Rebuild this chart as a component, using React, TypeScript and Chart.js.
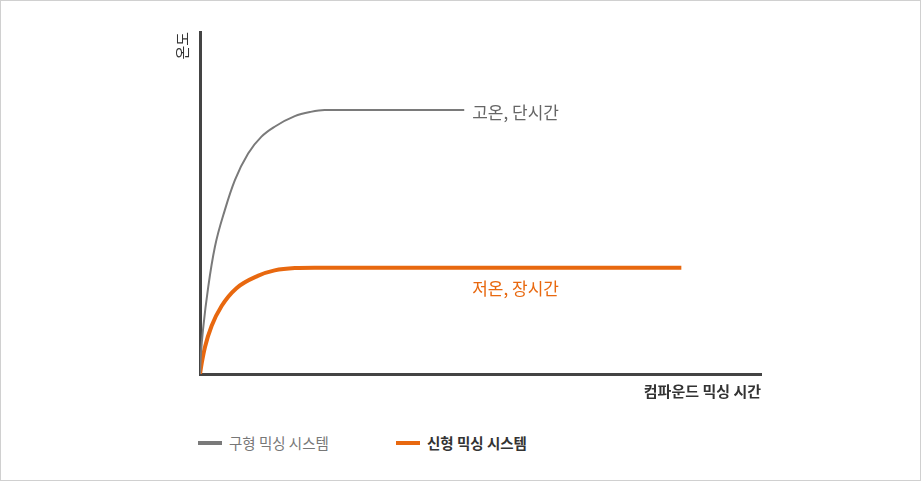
import React, { useEffect, useRef } from 'react';
import Chart from 'chart.js/auto';

// mixing time (x) vs temperature (y)
const oldX = [0, 0.18, 0.59, 1.47, 2.66, 4.44, 6.22, 8.58, 10.96, 13.3, 16.9, 19.6, 22.2, 47.1];
const oldY = [0, 6.1, 13.8, 25.5, 37.2, 48.0, 56.7, 64.5, 69.4, 72.3, 75.4, 76.6, 77.2, 77.2];
const newX = [0, 0.3, 0.89, 2.08, 3.85, 6.5, 10.3, 13.3, 16.9, 20.4, 85.8];
const newY = [0, 3.1, 7.9, 14.1, 19.9, 25.1, 28.7, 30.3, 31.0, 31.1, 31.1];

const seriesNames = ['구형 믹싱 시스템', '신형 믹싱 시스템'];
const curveLabels = ['고온, 단시간', '저온, 장시간'];
const xTitle = '컴파운드 믹싱 시간';
const yTitle = '온도';

const GRAY = '#7a7a7a';
const ORANGE = '#e8680f';
const AXIS = '#444';
const FONT = '"Noto Sans CJK KR", "Noto Sans", sans-serif';

function MixingChart() {
  const chartRef = useRef<HTMLCanvasElement>(null);

  useEffect(() => {
    if (!chartRef.current) return;

    // text next to each curve
    const curveText = {
      id: 'curveText',
      afterDatasetsDraw(chart: any) {
        const { ctx, scales } = chart;
        const x = scales.x.getPixelForValue(oldX[oldX.length - 1]) + 8;
        ctx.save();
        ctx.font = `17px ${FONT}`;
        ctx.textBaseline = 'middle';
        ctx.fillStyle = '#666';
        ctx.fillText(curveLabels[0], x, scales.y.getPixelForValue(oldY[oldY.length - 1]) + 3);
        ctx.fillStyle = ORANGE;
        ctx.fillText(curveLabels[1], x, scales.y.getPixelForValue(newY[newY.length - 1]) + 21);
        ctx.restore();
      },
    };

    const myChart = new Chart(chartRef.current, {
      type: 'line',
      data: {
        datasets: [
          {
            label: seriesNames[0],
            data: oldX.map((x, i) => ({ x, y: oldY[i] })),
            borderColor: GRAY,
            borderWidth: 2,
            pointRadius: 0,
            cubicInterpolationMode: 'monotone',
          },
          {
            label: seriesNames[1],
            data: newX.map((x, i) => ({ x, y: newY[i] })),
            borderColor: ORANGE,
            borderWidth: 4,
            pointRadius: 0,
            cubicInterpolationMode: 'monotone',
          },
        ],
      },
      options: {
        animation: false,
        responsive: false,
        layout: { padding: { left: 169, top: 32, right: 160, bottom: 16 } },
        plugins: { legend: { display: false }, tooltip: { enabled: false } },
        scales: {
          x: {
            type: 'linear',
            min: 0,
            max: 100,
            grid: { display: false },
            border: { color: AXIS, width: 3 },
            ticks: { display: false },
            afterFit: (s: any) => { s.height = 30; },
            title: {
              display: true,
              text: xTitle,
              align: 'end',
              color: '#333',
              font: { family: FONT, size: 15, weight: 'bold' },
            },
          },
          y: {
            min: 0,
            max: 100,
            grid: { display: false },
            border: { color: AXIS, width: 3 },
            ticks: { display: false },
            afterFit: (s: any) => { s.width = 31; },
            title: {
              display: true,
              text: yTitle,
              align: 'end',
              color: '#333',
              font: { family: FONT, size: 15 },
            },
          },
        },
      },
      plugins: [curveText],
    });

    return () => {
      myChart.destroy();
    };
  }, []);

  return <canvas ref={chartRef} width={921} height={420} style={{ display: 'block' }}></canvas>;
}

function LegendItem({ color, text, bold }: { color: string; text: string; bold?: boolean }) {
  return (
    <div style={{ display: 'flex', alignItems: 'center' }}>
      <span style={{ display: 'inline-block', width: 24, height: 4, background: color, marginRight: 7 }}></span>
      <span style={{ fontSize: 14.5, fontWeight: bold ? 'bold' : 'normal', color: bold ? '#333' : '#777' }}>{text}</span>
    </div>
  );
}

export default function App() {
  useEffect(() => {
    document.body.style.margin = '0';
  }, []);

  return (
    <div
      style={{
        position: 'relative',
        width: 921,
        height: 481,
        boxSizing: 'border-box',
        border: '1px solid #d0d0d0',
        background: '#fff',
        fontFamily: FONT,
        overflow: 'hidden',
      }}
    >
      <div style={{ position: 'absolute', left: -1, top: -1 }}>
        <MixingChart />
      </div>
      <div style={{ position: 'absolute', left: 197, top: 431 }}>
        <LegendItem color={GRAY} text={seriesNames[0]} />
      </div>
      <div style={{ position: 'absolute', left: 395, top: 431 }}>
        <LegendItem color={ORANGE} text={seriesNames[1]} bold />
      </div>
    </div>
  );
}
